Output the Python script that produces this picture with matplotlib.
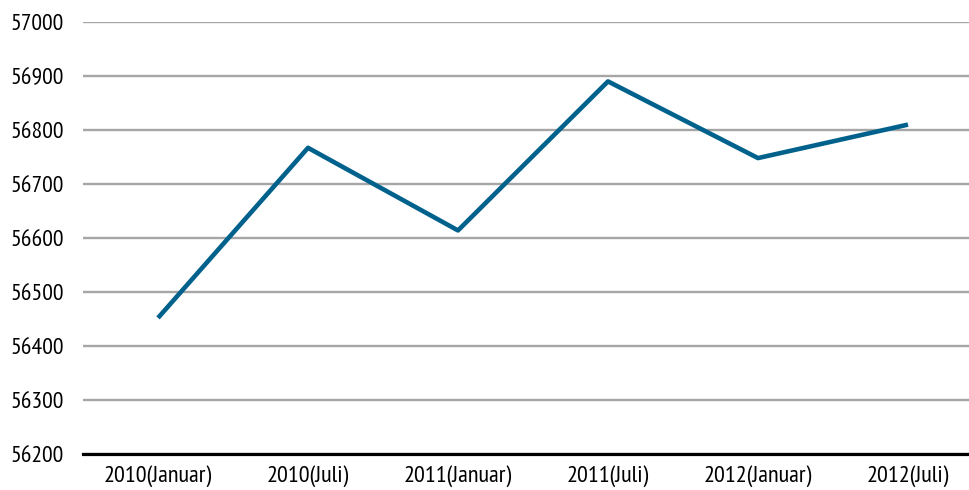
import matplotlib
matplotlib.use("Agg")
import matplotlib.pyplot as plt

# Data
categories = ["2010(Januar)", "2010(Juli)", "2011(Januar)", "2011(Juli)", "2012(Januar)", "2012(Juli)"]
values = [56452, 56767, 56614, 56890, 56748, 56810]
yticks = list(range(56200, 57001, 100))

plt.rcParams["font.family"] = ["PT Sans Narrow", "DejaVu Sans"]

fig = plt.figure(figsize=(9.69, 4.9), dpi=100)
ax = fig.add_axes([83 / 969, 1 - 454 / 490, 886 / 969, 432 / 490])

x = list(range(len(categories)))
ax.plot(x, values, color="#00628c", linewidth=3.3, solid_capstyle="butt", zorder=3)

ax.set_ylim(56200, 57000)
ax.set_xlim(-0.5, -0.5 + 886 / 150)
ax.set_yticks(yticks)
ax.set_yticklabels([str(v) for v in yticks], fontsize=17)
ax.set_xticks(x)
ax.set_xticklabels(categories, fontsize=17.5)

ax.grid(axis="y", color="#a6a6a6", linewidth=1.7, zorder=1)
ax.tick_params(axis="both", length=0)
ax.tick_params(axis="y", pad=14)
ax.tick_params(axis="x", pad=8)

for side in ["top", "right", "left"]:
    ax.spines[side].set_visible(False)
ax.spines["bottom"].set_color("black")
ax.spines["bottom"].set_linewidth(2.3)
ax.spines["bottom"].set_zorder(4)

fig.savefig("out.png", dpi=100)
